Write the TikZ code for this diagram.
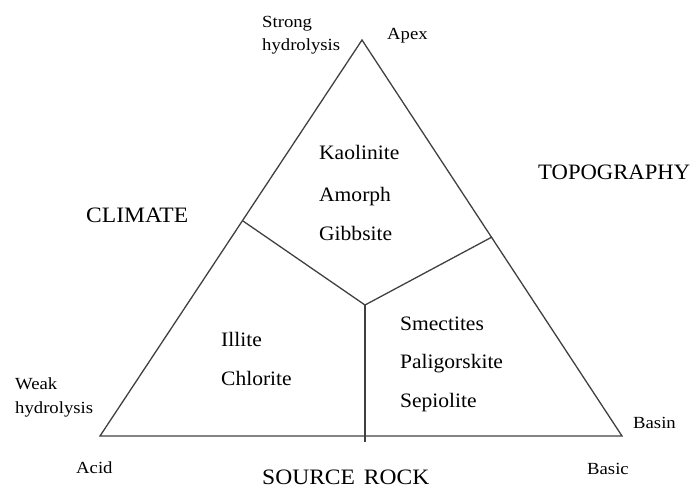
\documentclass[tikz,border=0pt]{standalone}
\usepackage{fontspec}
\setmainfont{Liberation Serif}
\newfontfamily\smallfont[FakeStretch=1.1]{Liberation Serif}
\newfontfamily\minfont[FakeStretch=1.05]{Liberation Serif}
\newfontfamily\capfont[FakeStretch=1.07]{Liberation Serif}
\newfontfamily\topofont[FakeStretch=1.03]{Liberation Serif}
\begin{document}
\begin{tikzpicture}[x=1pt,y=-1pt,
  edge/.style={draw=black!75,line width=1.3pt},
  small/.style={anchor=base west,inner sep=0pt,font=\smallfont\fontsize{17}{17}\selectfont},
  mineral/.style={anchor=base west,inner sep=0pt,font=\minfont\fontsize{20.5}{20.5}\selectfont},
  factor/.style={anchor=base west,inner sep=0pt,font=\capfont\fontsize{22}{22}\selectfont}]
\useasboundingbox (0,0) rectangle (695,488);
\coordinate (apex) at (362,40);
\coordinate (bl) at (100,436);
\coordinate (br) at (622,436);
\coordinate (ctr) at (365,305);
\coordinate (lj) at (243,221);
\coordinate (rj) at (492,237);
\coordinate (bj) at (365,442);
\draw[edge,line join=miter] (apex) -- (br) -- (bl) -- cycle;
\draw[edge] (lj) -- (ctr) -- (rj);
\draw[edge] (ctr) -- (bj);
% corner labels
\node[small] (s1) at (262,27) {Strong};
\node[small] (s2) at (262,50) {hydrolysis};
\node[small] (apx) at (387,39) {Apex};
\node[small] (w1) at (15,389) {Weak};
\node[small] (w2) at (15,413) {hydrolysis};
\node[small] (acid) at (76,473) {Acid};
\node[small] (basin) at (633,428) {Basin};
\node[small] (basic) at (587,474) {Basic};
% factors
\node[factor] (clim) at (86,222) {CLIMATE};
\node[factor,font=\topofont\fontsize{22}{22}\selectfont] (topo) at (538,179) {TOPOGRAPHY};
\node[factor] (src) at (262,484) {SOURCE\hspace{0.4em}ROCK};
% minerals
\node[mineral] (k) at (319,159) {Kaolinite};
\node[mineral] (am) at (319,201) {Amorph};
\node[mineral] (gb) at (319,240) {Gibbsite};
\node[mineral] (il) at (221,346) {Illite};
\node[mineral] (ch) at (221,385) {Chlorite};
\node[mineral] (sm) at (400,330) {Smectites};
\node[mineral] (pa) at (400,368) {Paligorskite};
\node[mineral] (se) at (400,407) {Sepiolite};
\end{tikzpicture}
\end{document}
